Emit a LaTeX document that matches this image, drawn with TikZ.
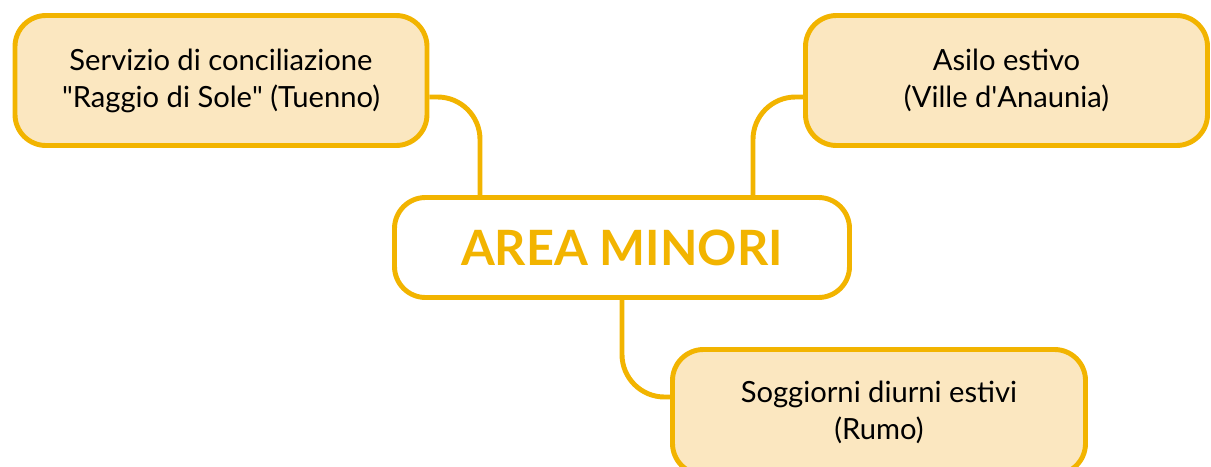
\documentclass[tikz,border=0pt]{standalone}
\usepackage{fontspec}
\setmainfont{Lato}
\usepackage{tikz}
\definecolor{areayellow}{RGB}{242,180,0}
\definecolor{areafill}{RGB}{251,231,192}

\begin{document}
\begin{tikzpicture}[
    box/.style={draw=areayellow, line width=2.8pt, fill=areafill, rounded corners=0.62cm,
      align=center, font=\fontsize{16.6}{21}\selectfont, inner sep=0pt},
    link/.style={draw=areayellow, line width=2.8pt, rounded corners=0.85cm}
  ]
    \useasboundingbox (0,0) rectangle (24.22,-9.32);

    % Central node
    \node[box, fill=white, minimum width=9.1cm, minimum height=2cm,
      text=areayellow, font=\fontsize{27.7}{32}\selectfont\bfseries] (area) at (12.44,-4.95) {AREA MINORI};

    % Branches
    \node[box, minimum width=8.24cm, minimum height=2.6cm] (servizio) at (4.42,-1.61)
      {Servizio di conciliazione\\\textquotedbl Raggio di Sole\textquotedbl{} (Tuenno)};
    \node[box, minimum width=8.04cm, minimum height=2.6cm] (asilo) at (20.13,-1.61)
      {Asilo estivo\\(Ville d\textquotesingle Anaunia)};
    \node[box, minimum width=8.26cm, minimum height=2.5cm] (soggiorni) at (17.58,-8.24)
      {Soggiorni diurni estivi\\(Rumo)};

    % Connectors
    \draw[link] ([yshift=-0.33cm]servizio.east) -| ([xshift=-2.84cm]area.north);
    \draw[link] ([yshift=-0.33cm]asilo.west) -| ([xshift=2.62cm]area.north);
    \draw[link] (area.south) |- ([yshift=0.3cm]soggiorni.west);
\end{tikzpicture}
\end{document}
